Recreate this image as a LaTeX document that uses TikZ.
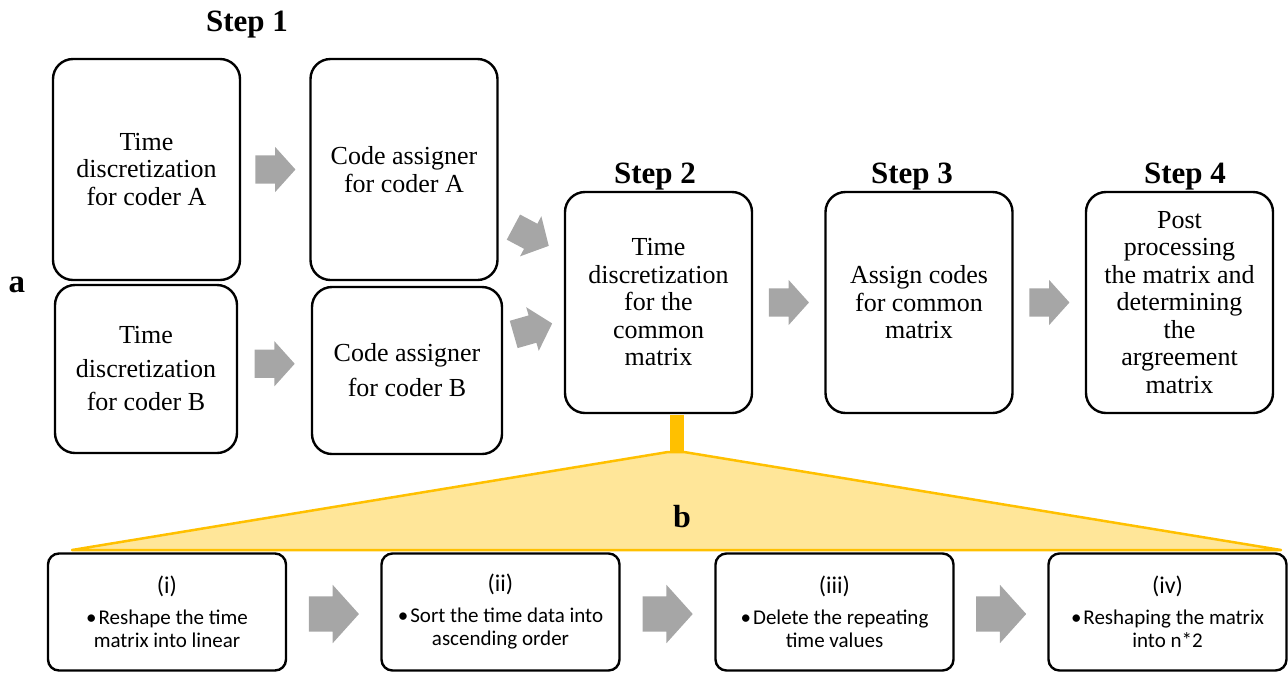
\documentclass[tikz,border=0pt]{standalone}
\usepackage{fontspec}
\setmainfont{Liberation Serif}
\newfontfamily\timesfont{Liberation Serif}
\newfontfamily\calibri{Carlito}
\usepackage{tikz}
\usetikzlibrary{shapes.arrows,calc}
\definecolor{arrowgray}{RGB}{166,166,166}
\definecolor{zoomgold}{RGB}{255,192,0}
\definecolor{zoomfill}{RGB}{255,230,153}

\begin{document}
\begin{tikzpicture}
[x=1pt, y=-1pt,
  stepbox/.style={draw, line width=2.4pt, rounded corners=20pt, inner sep=0pt,
    align=center, minimum width=187pt, minimum height=221pt,
    font=\timesfont\fontsize{26}{27.5}\selectfont},
  subbox/.style={draw, line width=2.4pt, rounded corners=11pt, inner sep=0pt,
    align=center, minimum width=238pt, minimum height=117pt,
    font=\calibri\fontsize{21}{23}\selectfont},
  steplabel/.style={anchor=base, font=\timesfont\bfseries\fontsize{31}{31}\selectfont},
  flow/.style={single arrow, anchor=tail, fill=arrowgray, inner xsep=0pt, inner ysep=14pt,
    single arrow head extend=8.5pt, single arrow tip angle=96,
    minimum height=40pt, minimum width=0pt},
  bigflow/.style={flow, inner ysep=17.5pt, single arrow head extend=11.5pt,
    minimum height=50pt}]
  \useasboundingbox (0,0) rectangle (1288,673);

  % step 1, one row per coder
  \node[stepbox] (ta) at (146.5,169.5) {Time\\discretization\\for coder A};
  \node[stepbox] (ca) at (404,169.5) {Code assigner\\for coder A};
  \node[stepbox, minimum width=182pt, minimum height=168pt,
    font=\timesfont\fontsize{26}{33.5}\selectfont] (tb) at (146,369) {Time\\discretization\\for coder B};
  \node[stepbox, minimum width=190pt, minimum height=167pt,
    font=\timesfont\fontsize{26}{35}\selectfont] (cb) at (407,370.5) {Code assigner\\for coder B};

  % steps 2 to 4
  \node[stepbox] (common) at (658.5,302.5) {Time\\discretization\\for the\\common\\matrix};
  \node[stepbox] (assign) at (919,302.5) {Assign codes\\for common\\matrix};
  \node[stepbox] (post) at (1179.5,302.5) {Post\\processing\\the matrix and\\determining\\the\\argreement\\matrix};

  \node[steplabel] (s1) at (247,31) {Step 1};
  \node[steplabel] (s2) at (655,183) {Step 2};
  \node[steplabel] (s3) at (912,183) {Step 3};
  \node[steplabel] (s4) at (1185,183) {Step 4};
  \node[anchor=base, font=\timesfont\bfseries\fontsize{33}{33}\selectfont] (parta) at (17,292) {a};

  % arrows sit on their tail
  \node[flow] (fa) at ($(ta.east)!0.5!(ca.west)+(-20,0)$) {};
  \node[flow] (fb) at ($(tb.east)!0.5!(cb.west)+(-20,-6)$) {};
  \node[flow, rotate=-28] (fca) at ($(ca.east)!0.5!(common.west)+(-18,-9)$) {};
  \node[flow, rotate=16] (fcb) at ($(cb.east)!0.5!(common.west)+(-20,-2)$) {};
  \node[flow] (f23) at ($(common.east)!0.5!(assign.west)+(-20,0)$) {};
  \node[flow] (f34) at ($(assign.east)!0.5!(post.west)+(-20,0)$) {};

  % zoom into step 2
  \filldraw[fill=zoomfill, draw=zoomgold, line width=2.5pt, line join=round]
    (72,550) -- (668,452) -- (684,452) -- (1281,550) -- cycle;
  \fill[zoomgold] ([xshift=1.5pt,yshift=-1.2pt]common.south -| 668,0) rectangle (684,452);
  \node[anchor=base, font=\timesfont\bfseries\fontsize{32}{32}\selectfont] (partb) at (682,527) {b};

  \node[subbox] (p1) at (167,612) {{\fontsize{24}{24}\selectfont (i)}\\[8pt]\textbullet\kern2pt Reshape the time\\matrix into linear};
  \node[subbox] (p2) at (500.5,612) {{\fontsize{24}{24}\selectfont (ii)}\\[8pt]\textbullet\kern2pt Sort the time data into\\ascending order};
  \node[subbox] (p3) at (834.5,612) {{\fontsize{24}{24}\selectfont (iii)}\\[8pt]\textbullet\kern2pt Delete the repeating\\time values};
  \node[subbox] (p4) at (1167.5,612) {{\fontsize{24}{24}\selectfont (iv)}\\[8pt]\textbullet\kern2pt Reshaping the matrix\\into n*2};

  \node[bigflow] (g12) at ($(p1.east)!0.5!(p2.west)+(-25,2)$) {};
  \node[bigflow] (g23) at ($(p2.east)!0.5!(p3.west)+(-25,2)$) {};
  \node[bigflow] (g34) at ($(p3.east)!0.5!(p4.west)+(-25,2)$) {};
\end{tikzpicture}
\end{document}
